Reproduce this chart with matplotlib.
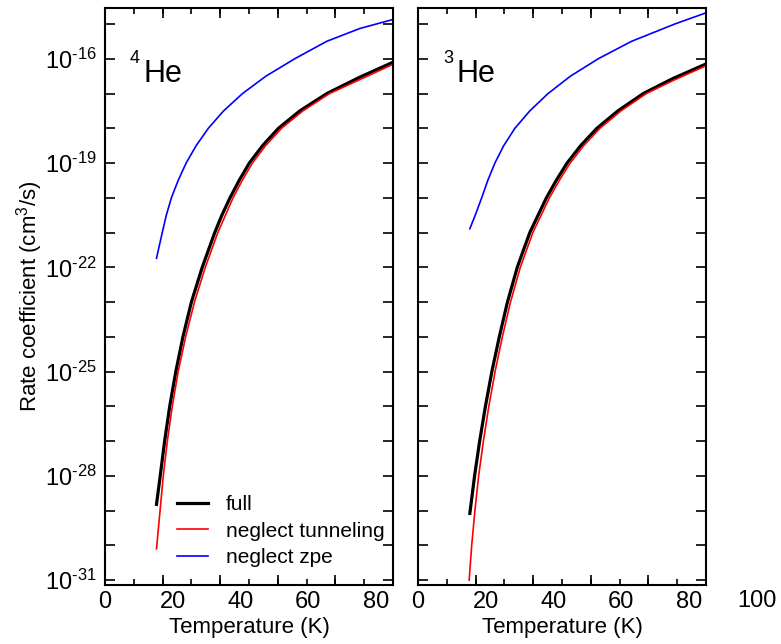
import numpy as np
import matplotlib
matplotlib.use('Agg')
import matplotlib.pyplot as plt
from matplotlib.ticker import FixedLocator, NullFormatter

plt.rcParams['font.family'] = 'Liberation Sans'
plt.rcParams['mathtext.fontset'] = 'custom'
plt.rcParams['mathtext.rm'] = 'Liberation Sans'
plt.rcParams['mathtext.it'] = 'Liberation Sans:italic'

# 4He panel: temperature (K) and log10 rate coefficient (cm^3/s)
he4_full_T = [15.2, 16.3, 17.6, 19.1, 20.9, 23.0, 25.5, 28.7, 32.4, 34.5, 36.9, 39.6, 42.6,
              46.5, 51.2, 57.5, 65.5, 75.2, 85.0]
he4_full_logk = [-28.82, -28.0, -27.0, -26.0, -25.0, -24.0, -23.0, -22.0, -21.0, -20.5, -20.0,
                 -19.5, -19.0, -18.5, -18.0, -17.5, -17.0, -16.53, -16.10]
he4_notun_T = [15.2, 15.3, 16.25, 17.2, 18.4, 19.85, 21.6, 23.8, 26.4, 29.6, 33.3, 37.8, 40.5,
               43.5, 47.4, 52.1, 58.4, 66.3, 75.2, 85.0]
he4_notun_logk = [-30.1, -30.0, -29.0, -28.0, -27.0, -26.0, -25.0, -24.0, -23.0, -22.0, -21.0,
                  -20.0, -19.5, -19.0, -18.5, -18.0, -17.5, -17.0, -16.60, -16.16]
he4_nozpe_T = [15.2, 16.9, 18.1, 19.6, 21.6, 23.95, 26.9, 30.5, 35.0, 40.6, 47.5, 56.0, 65.4,
               75.2, 85.0]
he4_nozpe_logk = [-21.74, -21.0, -20.5, -20.0, -19.5, -19.0, -18.5, -18.0, -17.5, -17.0, -16.5,
                  -16.0, -15.5, -15.13, -14.87]

# 3He panel
he3_full_T = [15.3, 16.7, 18.2, 19.9, 21.8, 24.0, 26.4, 29.3, 33.0, 37.9, 40.8, 44.0, 48.0,
              52.8, 59.0, 66.5, 75.2, 85.0]
he3_full_logk = [-29.08, -28.0, -27.0, -26.0, -25.0, -24.0, -23.0, -22.0, -21.0, -20.0, -19.5,
                 -19.0, -18.5, -18.0, -17.5, -17.0, -16.57, -16.15]
he3_notun_T = [15.1, 15.85, 16.8, 17.9, 19.3, 20.9, 22.75, 24.9, 27.3, 30.2, 33.9, 38.8, 41.7,
               44.9, 48.9, 53.7, 59.9, 67.4, 75.2, 85.0]
he3_notun_logk = [-31.0, -30.0, -29.0, -28.0, -27.0, -26.0, -25.0, -24.0, -23.0, -22.0, -21.0,
                  -20.0, -19.5, -19.0, -18.5, -18.0, -17.5, -17.0, -16.63, -16.2]
he3_nozpe_T = [15.3, 16.9, 18.8, 20.6, 22.7, 25.3, 28.6, 33.0, 38.4, 45.0, 53.2, 63.0, 75.8, 84.7]
he3_nozpe_logk = [-20.89, -20.5, -20.0, -19.5, -19.0, -18.5, -18.0, -17.5, -17.0, -16.5, -16.0,
                  -15.5, -15.0, -14.69]

panels = [
    ('4', he4_full_T, he4_full_logk, he4_notun_T, he4_notun_logk, he4_nozpe_T, he4_nozpe_logk),
    ('3', he3_full_T, he3_full_logk, he3_notun_T, he3_notun_logk, he3_nozpe_T, he3_nozpe_logk),
]

xlabels = [0, 20, 40, 60, 80]
ylabel_exps = [-31, -28, -25, -22, -19, -16]

fig = plt.figure(figsize=(7.81, 6.44), dpi=100)
lefts = [105 / 781, 418 / 781]
W, H = 288 / 781, 577 / 644
B = 59 / 644

for i, (iso, fT, fk, tT, tk, zT, zk) in enumerate(panels):
    ax = fig.add_axes([lefts[i], B, W, H])
    ax.plot(fT, 10.0 ** np.array(fk), color='black', lw=2.3, label='full')
    ax.plot(tT, 10.0 ** np.array(tk), color='red', lw=1.2, label='neglect tunneling')
    ax.plot(zT, 10.0 ** np.array(zk), color='blue', lw=1.2, label='neglect zpe')
    ax.set_yscale('log')
    ax.set_xlim(0, 85)
    ax.set_ylim(10 ** -31.14, 10 ** -14.54)

    for s in ax.spines.values():
        s.set_linewidth(1.5)

    # x axis: labels at 0..80, tick marks every 8.5
    ax.set_xticks(xlabels)
    ax.set_xticklabels([str(v) for v in xlabels])
    ax.xaxis.set_minor_locator(FixedLocator(np.arange(0, 85.1, 8.5)))
    ax.tick_params(axis='x', which='major', length=0, labelsize=17, pad=4)
    ax.tick_params(axis='x', which='minor', direction='in', length=4, width=1.2,
                   top=True, bottom=True)
    for side in ['bottom', 'top']:
        sec = ax.secondary_xaxis(side)
        sec.set_xticks([17, 34, 51, 68])
        sec.tick_params(direction='in', length=7, width=1.2, labelbottom=False, labeltop=False)
        sec.spines[side].set_visible(False)
    if i == 1:
        ax.text(100, -0.009, '100', transform=ax.get_xaxis_transform(), ha='center', va='top',
                fontsize=17, clip_on=False)

    # y axis
    ax.yaxis.set_major_locator(FixedLocator([10.0 ** e for e in ylabel_exps]))
    ax.yaxis.set_minor_locator(FixedLocator([10.0 ** e for e in range(-31, -14)]))
    ax.yaxis.set_minor_formatter(NullFormatter())
    ax.tick_params(axis='y', which='both', direction='in', length=7, width=1.2,
                   left=True, right=True)
    if i == 0:
        ax.set_yticklabels(['$\\mathregular{10^{\u2010%d}}$' % -e for e in ylabel_exps])
        ax.tick_params(axis='y', which='major', labelsize=17, pad=6)
        ax.set_ylabel(r'Rate coefficient (cm$\mathregular{^3}$/s)', fontsize=16, labelpad=0)
        ax.legend(loc='lower left', bbox_to_anchor=(0.2, 0.006), frameon=False, fontsize=15,
                  handlelength=1.5, handletextpad=0.85, labelspacing=0.35, borderpad=0.2)
    else:
        ax.tick_params(axis='y', which='major', labelleft=False)

    ax.set_xlabel('Temperature (K)', fontsize=16, labelpad=3)
    ax.text(0.087, 0.905, iso, transform=ax.transAxes, fontsize=13, ha='left', va='baseline')
    ax.text(0.132, 0.872, 'He', transform=ax.transAxes, fontsize=22, ha='left', va='baseline')

fig.savefig('out.png', dpi=100)
